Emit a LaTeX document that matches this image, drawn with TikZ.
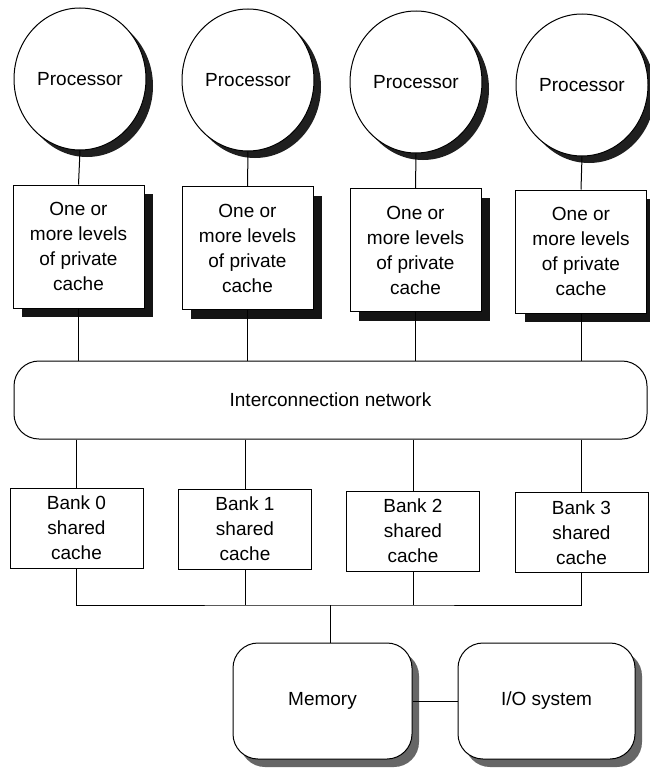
\documentclass[tikz,border=0pt]{standalone}
\usepackage{fontspec}
\setmainfont{Liberation Sans}
\usetikzlibrary{shapes.geometric,shadows}
\begin{document}
\begin{tikzpicture}[x=1pt,y=-1pt,
  every node/.style={font=\fontsize{19}{25}\selectfont, inner sep=0pt},
  conn/.style={draw, line width=1pt},
  procnode/.style={ellipse, draw, line width=1pt, fill=white, minimum width=132pt, minimum height=142pt,
    drop shadow={shadow xshift=7pt, shadow yshift=-7pt, fill=black!88, opacity=1}},
  cachenode/.style={rectangle, draw, line width=1pt, fill=white, minimum width=131pt, minimum height=123pt, align=center,
    drop shadow={shadow xshift=9pt, shadow yshift=-9pt, fill=black!92, opacity=1}},
  netnode/.style={rectangle, rounded corners=25pt, draw, line width=1pt, fill=white, minimum width=633pt, minimum height=78pt},
  banknode/.style={rectangle, draw, line width=1pt, fill=white, minimum width=133pt, minimum height=80pt, align=center},
  memnode/.style={rectangle, rounded corners=25pt, draw, line width=1pt, fill=white, minimum height=116pt,
    drop shadow={shadow xshift=7pt, shadow yshift=-8pt, fill=black!60, opacity=1}}
]
\useasboundingbox[fill=white] (0,0) rectangle (649,771);

% processors
\node[procnode] (p1) at (80,79) {Processor};
\node[procnode] (p2) at (248,80) {Processor};
\node[procnode] (p3) at (416,82) {Processor};
\node[procnode] (p4) at (582,85) {Processor};

% private caches
\node[cachenode] (c1) at (78.5,246.5) {One or\\more levels\\of private\\cache};
\node[cachenode] (c2) at (247.5,248) {One or\\more levels\\of private\\cache};
\node[cachenode] (c3) at (415.5,250) {One or\\more levels\\of private\\cache};
\node[cachenode] (c4) at (581,251.5) {One or\\more levels\\of private\\cache};

% interconnection network
\node[netnode] (net) at (330.5,400) {Interconnection network};

% banks
\node[banknode] (b0) at (76.5,528) {Bank 0\\shared\\cache};
\node[banknode] (b1) at (245,529) {Bank 1\\shared\\cache};
\node[banknode] (b2) at (413,531) {Bank 2\\shared\\cache};
\node[banknode] (b3) at (581.5,532.5) {Bank 3\\shared\\cache};

% memory and I/O
\node[memnode, minimum width=179pt] (mem) at (322.5,701) {Memory};
\node[memnode, minimum width=177pt] (io) at (546.5,701) {I/O system};

\coordinate (bus) at (330,605);

% connectors
\foreach \i in {1,2,3,4} {
  \draw[conn] (p\i.south) -- (c\i.north);
}
\draw[conn] (c1.south) -- (c1.south |- net.north);
\draw[conn] (c2.south) -- (c2.south |- net.north);
\draw[conn] (c3.south) -- (c3.south |- net.north);
\draw[conn] (c4.south) -- (c4.south |- net.north);
\draw[conn] (b0.north |- net.south) -- (b0.north);
\draw[conn] (b1.north |- net.south) -- (b1.north);
\draw[conn] (b2.north |- net.south) -- (b2.north);
\draw[conn] (b3.north |- net.south) -- (b3.north);
\draw[conn] (b0.south) |- (bus) -| (b3.south);
\draw[conn] (b1.south) -- (b1.south |- bus);
\draw[conn] (b2.south) -- (b2.south |- bus);
\draw[conn] (bus) -- (bus |- mem.north);
\draw[conn] (mem.east) -- (io.west);
\end{tikzpicture}
\end{document}
